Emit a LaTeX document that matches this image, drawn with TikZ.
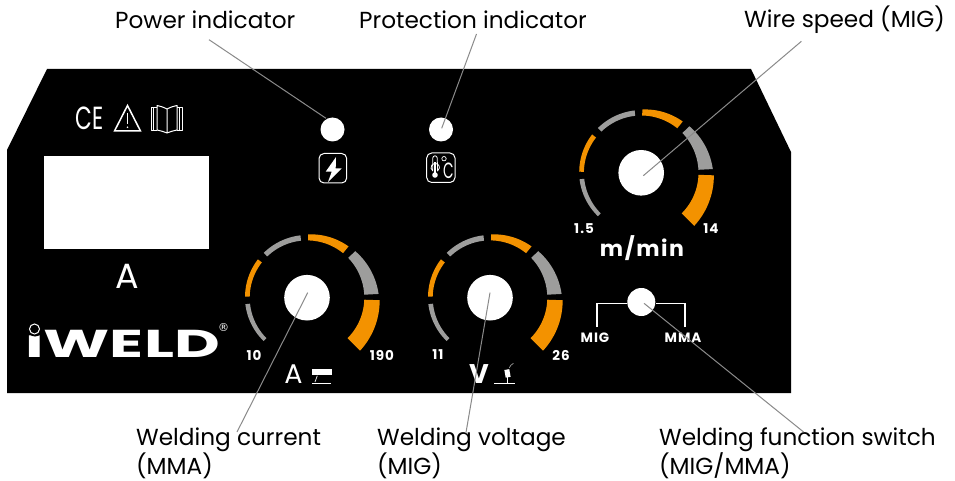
\documentclass[tikz,border=0pt]{standalone}
\usepackage{fontspec}
\setmainfont{Poppins}
\newfontfamily\tickfont[LetterSpace=7,BoldFont={Poppins Bold}]{Poppins}
\newfontfamily\regfont{DejaVu Sans}
\definecolor{gorange}{HTML}{F39200}
\definecolor{ggray}{HTML}{9D9D9C}
\definecolor{leader}{HTML}{8A8A8A}
\newcommand{\seg}[8]{% cx cy a1 a2 rin r1 r2 color
  \fill[#8] plot[domain=#3:#4,samples=16] ({#1+(#6+(#7-#6)*(\x-(#3))/((#4)-(#3)))*cos(\x)},{#2-(#6+(#7-#6)*(\x-(#3))/((#4)-(#3)))*sin(\x)})
    -- plot[domain=#4:#3,samples=16] ({#1+#5*cos(\x)},{#2-#5*sin(\x)}) -- cycle;}
\newcommand{\dial}[3]{% name cx cy
  \seg{#2}{#3}{225}{186}{57.3}{61.3}{62}{ggray}
  \seg{#2}{#3}{179}{142}{57.3}{62}{62.3}{gorange}
  \seg{#2}{#3}{134}{96}{57.3}{62.3}{62.7}{ggray}
  \seg{#2}{#3}{89}{51}{57.3}{63.3}{66}{gorange}
  \seg{#2}{#3}{44}{3}{57.3}{67}{71.7}{ggray}
  \seg{#2}{#3}{-2}{-45}{57.3}{72.7}{75}{gorange}
  \node[knob] (#1) at (#2,#3) {};}
\tikzset{
  knob/.style={circle,fill=white,inner sep=0pt,minimum size=45.6},
  lamp/.style={circle,fill=white,inner sep=0pt,minimum size=24},
  callout/.style={font=\fontsize{23.2}{29}\selectfont,text=black,inner sep=0pt,align=left},
  ticklabel/.style={font=\fontsize{13.5}{13.5}\tickfont\bfseries\selectfont,text=white,inner sep=0pt},
  leaderline/.style={draw=leader,line width=1},
  iconline/.style={draw=white,line width=1,line join=round}
}
\begin{document}
\begin{tikzpicture}[x=1pt,y=-1pt]
\useasboundingbox (0,0) rectangle (955,481);
\fill[white] (0,0) rectangle (955,481);
\fill[black] (47,69) -- (751,69) -- (791,152) -- (791,393) -- (7,393) -- (7,150) -- cycle;
\node[fill=white,minimum width=165,minimum height=93,inner sep=0pt] (display) at (126.5,202.5) {};
\node[font=\fontsize{35}{35}\selectfont,text=white,inner sep=0pt] (unitA) at (127,276) {A};
\dial{kcurrent}{307}{297.7}
\dial{kvoltage}{490}{297.7}
\dial{kwire}{641.2}{172.8}
\node[lamp] (power) at (332.5,129.5) {};
\node[lamp] (prot) at (441,129.5) {};
\node[knob,minimum size=28] (sw) at (641.3,302) {};
\draw[draw=white,line width=1.2] (597,327) |- ([yshift=-1.3pt]sw.west);
\draw[draw=white,line width=1.2] (685,327) |- ([yshift=-1.3pt]sw.east);
% scale labels
\node[ticklabel] at (584,229) {1.5};
\node[ticklabel] at (711,229) {14};
\node[ticklabel] at (254,355) {10};
\node[ticklabel] at (382,355) {190};
\node[ticklabel] at (438,355) {11};
\node[ticklabel] at (561,355) {26};
\node[font=\fontsize{22}{22}\tickfont\bfseries\selectfont,text=white,inner sep=0pt] (mmin) at (642,248) {m/min};
\node[font=\fontsize{27}{27}\selectfont,text=white,inner sep=0pt] (a2) at (293.5,374.5) {A};
\node[font=\fontsize{27}{27}\bfseries\selectfont,text=white,inner sep=0pt] (v2) at (479,374.5) {V};
\node[ticklabel] (mig) at (595,338) {MIG};
\node[ticklabel] (mma) at (683,338) {MMA};
% MMA icon
\fill[white] (312.3,369) rectangle (331.7,375);
\draw[iconline] (312,383.3) -- (331,383.3);
\draw[iconline,line width=.7] (315,382) -- (317.3,375.7);
% MIG icon
\draw[iconline] (494,383.3) -- (515,383.3);
\draw[iconline,line width=.8] (507.3,383.3) -- (507.3,377);
\fill[white,rotate around={10:(507.5,373.5)}] (505,369.5) rectangle (510,377.3);
\draw[draw=ggray,line width=.7] (509.3,368) .. controls (510,366) and (511,364.5) .. (513.5,363.3);
% logo text
\node[font=\fontsize{37}{37}\bfseries\selectfont,text=white,inner sep=0pt,xscale=1.7,yscale=1.05] (logo) at (122.5,342) {iWELD};
\fill[black] (35,329) circle (7.5);
\draw[draw=white,fill=black,line width=1] (34.5,329) circle (5);
\node[font=\fontsize{11}{11}\regfont\selectfont,text=white,inner sep=0pt] (reg) at (223.5,328) {®};
% CE
\node[font=\fontsize{32}{32}\selectfont,text=white,inner sep=0pt,xscale=.68] (ce) at (89.5,118.5) {CE};
% warning
\draw[iconline,line width=1.5,line join=miter] (127.5,105.5) -- (140.5,131) -- (114.5,131) -- cycle;
\draw[iconline,line width=1.4] (127.5,113) -- (127.5,124);
\fill[white] (127.5,127.3) circle (.9);
% book
\draw[iconline] (167,109) .. controls (163,107) and (160,106) .. (157,105.5) -- (157,130) .. controls (160,130.5) and (163,131.5) .. (167,133) .. controls (171,131.5) and (174,130.5) .. (177,130) -- (177,105.5) .. controls (174,106) and (171,107) .. (167,109) -- (167,133);
\draw[iconline] (157,108) -- (151,108) -- (151,130.5) -- (157,130.5) (153.5,108) -- (153.5,130.5) (177,108) -- (182,108) -- (182,130.5) -- (177,130.5) (179.5,108) -- (179.5,130.5);
% bolt icon
\draw[iconline,rounded corners=5] (319,153.5) rectangle (346.7,183);
\fill[white] (336,157) -- (325.7,171.7) -- (331.7,171.7) -- (328,182) -- (341.7,168.3) -- (335.7,168.3) -- cycle;
% thermo icon
\draw[iconline,rounded corners=5] (426.7,153) rectangle (455,182.5);
\draw[iconline,line width=.8] (432.8,158) -- (432.8,171) arc[start angle=125,end angle=415,radius=4.2] -- (437.2,158) arc[start angle=0,end angle=-180,radius=2.2];
\fill[white] (435,175) circle (2.8);
\draw[draw=white,line width=1.2] (435,162) -- (435,175);
\node[font=\fontsize{22}{22}\selectfont,text=white,inner sep=0pt,xscale=.62] (deg) at (448.5,171) {C};
\draw[iconline,line width=.7] (444,158.7) circle (2.2);
% callouts
\node[callout,anchor=west] (lpower) at (115,20) {Power indicator};
\node[callout,anchor=west] (lprot) at (359,20) {Protection indicator};
\node[callout,anchor=west] (lwire) at (744,20) {Wire speed (MIG)};
\node[callout,anchor=north west] (lcur) at (136,427.5) {Welding current\\(MMA)};
\node[callout,anchor=north west] (lvolt) at (377,427.5) {Welding voltage\\(MIG)};
\node[callout,anchor=north west] (lsw) at (659,427.5) {Welding function switch\\(MIG/MMA)};
\coordinate (epower) at (326,118.3);
\coordinate (eprot) at (441.7,128.3);
\coordinate (ewire) at (643.3,175.7);
\coordinate (ecur) at (307.7,292.7);
\coordinate (evolt) at (490,292.7);
\coordinate (esw) at (644,303.3);
\coordinate (spower) at (209,39.7);
\coordinate (sprot) at (476.5,34);
\coordinate (swire) at (801.4,41.3);
\coordinate (scur) at (237,432);
\coordinate (svolt) at (466,432.5);
\coordinate (ssw) at (803.6,432);
\draw[leaderline] (spower) -- (epower);
\draw[leaderline] (sprot) -- (eprot);
\draw[leaderline] (swire) -- (ewire);
\draw[leaderline] (scur) -- (ecur);
\draw[leaderline] (svolt) -- (evolt);
\draw[leaderline] (ssw) -- (esw);
\end{tikzpicture}
\end{document}
